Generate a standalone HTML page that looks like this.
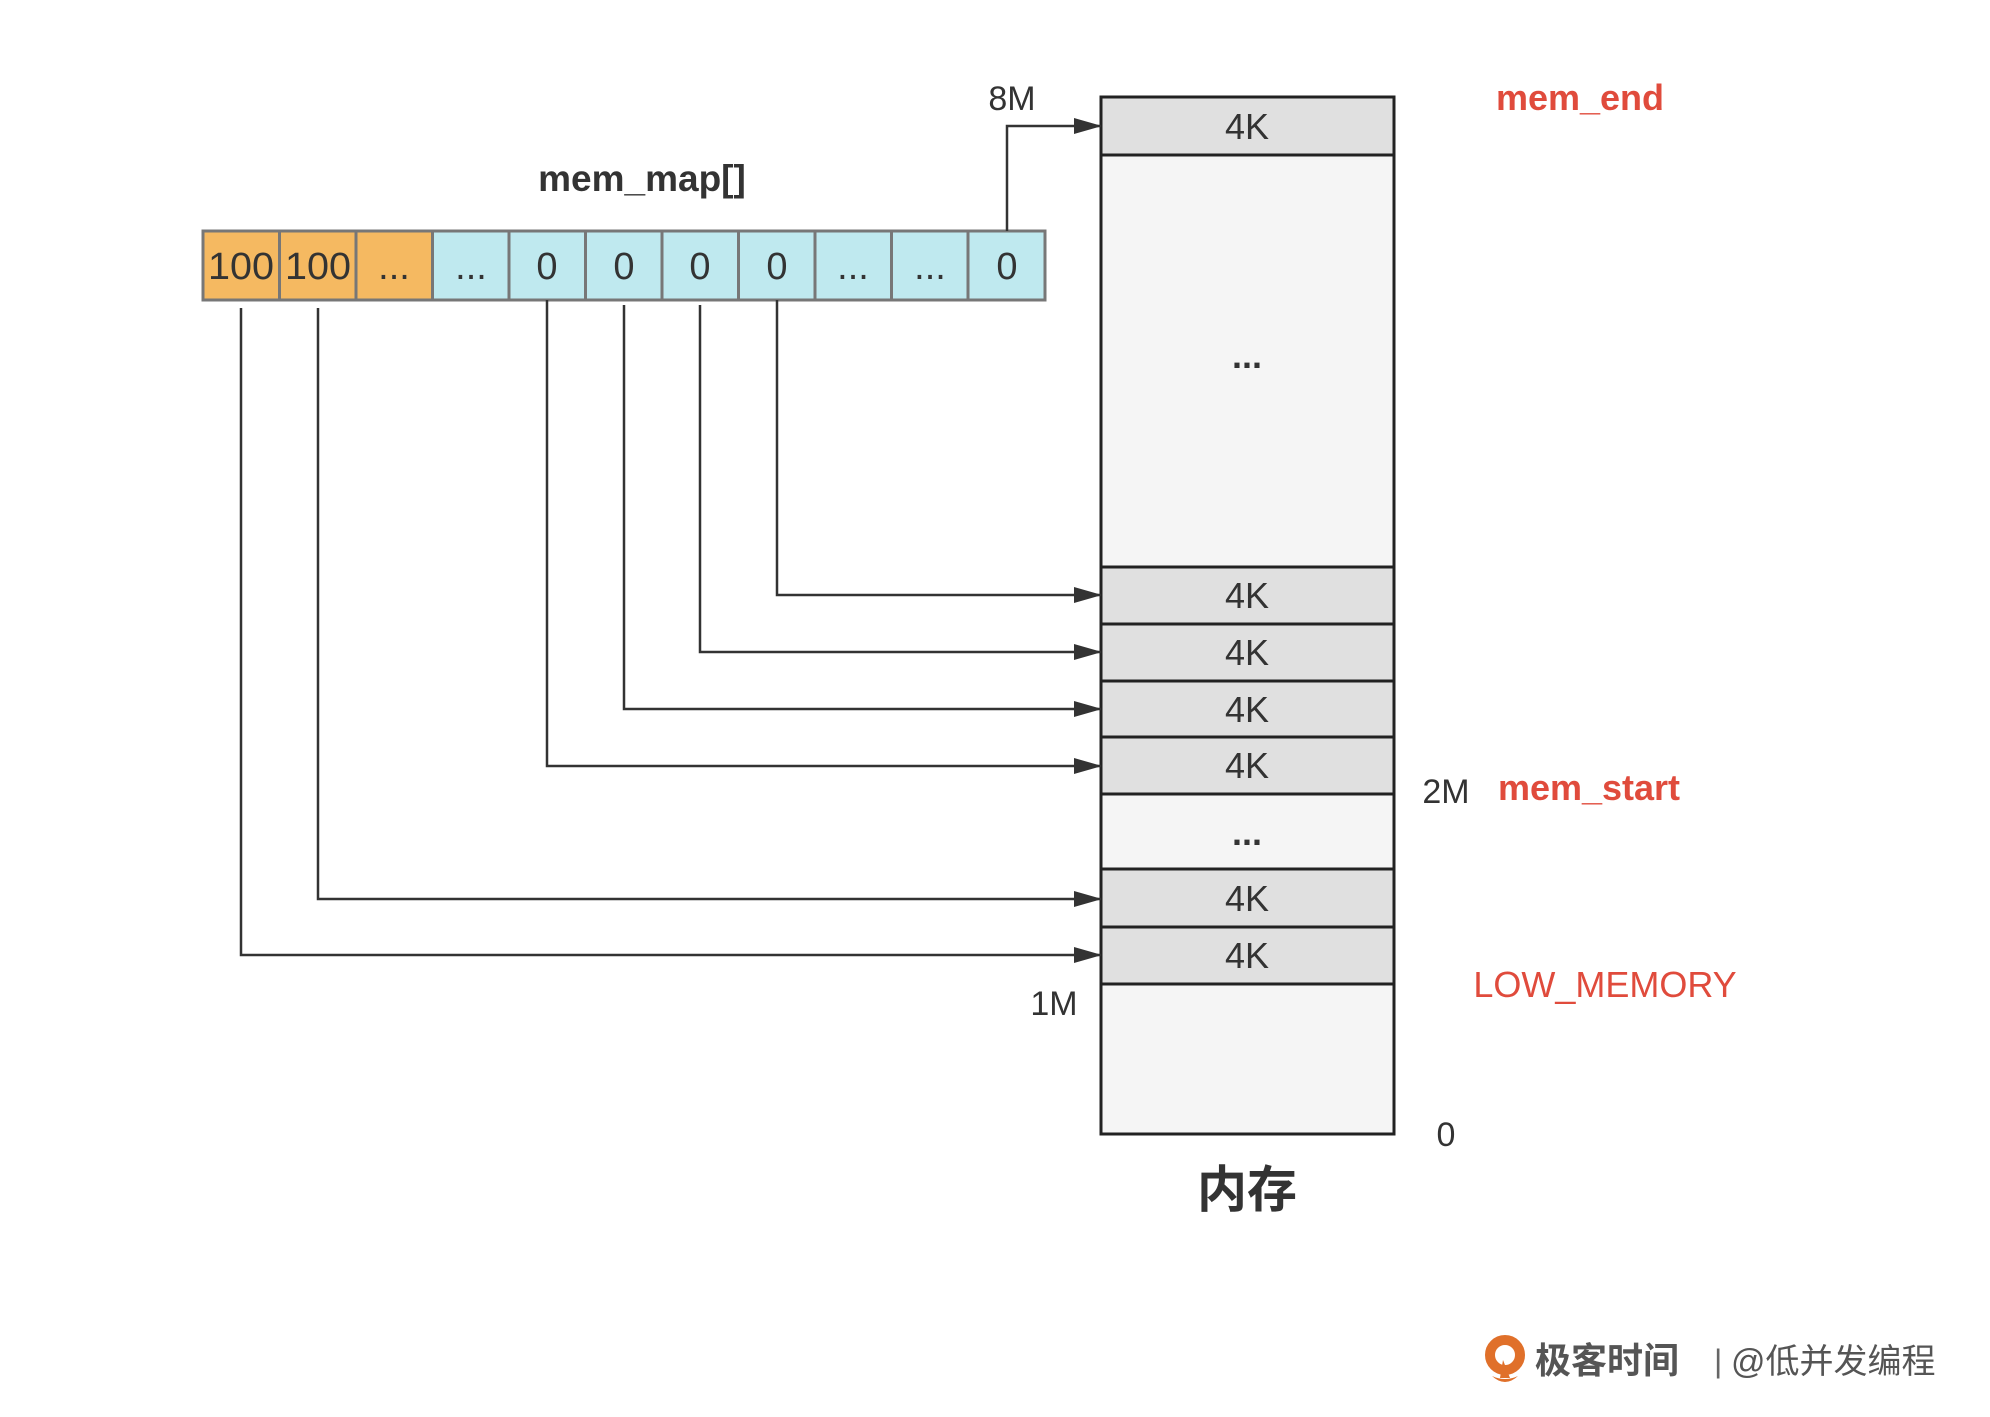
<!DOCTYPE html>
<html><head><meta charset="utf-8"><style>
html,body{margin:0;padding:0;background:#fff;}
svg{display:block;}
text{font-family:"Liberation Sans","Noto Sans CJK SC",sans-serif;}
</style></head><body>
<svg width="1990" height="1417" viewBox="0 0 1990 1417" xmlns="http://www.w3.org/2000/svg">
<defs>
<marker id="b" viewBox="0 0 28 20" refX="27" refY="10" markerWidth="28" markerHeight="20" orient="auto" markerUnits="userSpaceOnUse">
<path d="M0,2 L28,10 L0,18 z" fill="#333"/>
</marker>
</defs>

<g stroke="#222" stroke-width="3">
<rect x="1101" y="97" width="293" height="58" fill="#e0e0e0"/>
<rect x="1101" y="155" width="293" height="412" fill="#f5f5f5"/>
<rect x="1101" y="567" width="293" height="57" fill="#e0e0e0"/>
<rect x="1101" y="624" width="293" height="57" fill="#e0e0e0"/>
<rect x="1101" y="681" width="293" height="56" fill="#e0e0e0"/>
<rect x="1101" y="737" width="293" height="57" fill="#e0e0e0"/>
<rect x="1101" y="794" width="293" height="75" fill="#f5f5f5"/>
<rect x="1101" y="869" width="293" height="58" fill="#e0e0e0"/>
<rect x="1101" y="927" width="293" height="57" fill="#e0e0e0"/>
<rect x="1101" y="984" width="293" height="150" fill="#f5f5f5"/>
</g>
<g font-size="36" fill="#333" text-anchor="middle">
<text x="1247" y="139">4K</text>
<text x="1247" y="368" font-weight="bold">...</text>
<text x="1247" y="608">4K</text>
<text x="1247" y="665">4K</text>
<text x="1247" y="722">4K</text>
<text x="1247" y="778">4K</text>
<text x="1247" y="845" font-weight="bold">...</text>
<text x="1247" y="911">4K</text>
<text x="1247" y="968">4K</text>
</g>

<g stroke="#777" stroke-width="3">
<rect x="203" y="231" width="76.5" height="69" fill="#f5b961"/>
<rect x="279.5" y="231" width="76.5" height="69" fill="#f5b961"/>
<rect x="356" y="231" width="76.5" height="69" fill="#f5b961"/>
<rect x="432.5" y="231" width="76.5" height="69" fill="#bfe9ef"/>
<rect x="509" y="231" width="76.5" height="69" fill="#bfe9ef"/>
<rect x="585.5" y="231" width="76.5" height="69" fill="#bfe9ef"/>
<rect x="662" y="231" width="76.5" height="69" fill="#bfe9ef"/>
<rect x="738.5" y="231" width="76.5" height="69" fill="#bfe9ef"/>
<rect x="815" y="231" width="76.5" height="69" fill="#bfe9ef"/>
<rect x="891.5" y="231" width="76.5" height="69" fill="#bfe9ef"/>
<rect x="968" y="231" width="77" height="69" fill="#bfe9ef"/>
</g>
<g font-size="38" fill="#333" text-anchor="middle">
<text x="241" y="279" textLength="66" lengthAdjust="spacingAndGlyphs">100</text>
<text x="318" y="279" textLength="66" lengthAdjust="spacingAndGlyphs">100</text>
<text x="394" y="279">...</text>
<text x="471" y="279">...</text>
<text x="547" y="279">0</text>
<text x="624" y="279">0</text>
<text x="700" y="279">0</text>
<text x="777" y="279">0</text>
<text x="853" y="279">...</text>
<text x="930" y="279">...</text>
<text x="1007" y="279">0</text>
</g>

<g stroke="#333" stroke-width="2.5" fill="none" marker-end="url(#b)">
<polyline points="1007,231 1007,126 1101,126"/>
<polyline points="777,300 777,595 1101,595"/>
<polyline points="700,305 700,652 1101,652"/>
<polyline points="624,305 624,709 1101,709"/>
<polyline points="547,300 547,766 1101,766"/>
<polyline points="318,308 318,899 1101,899"/>
<polyline points="241,308 241,955 1101,955"/>
</g>

<g font-size="34" fill="#333">
<text x="1012" y="110" text-anchor="middle">8M</text>
<text x="642" y="191" text-anchor="middle" font-size="37" font-weight="bold">mem_map[]</text>
<text x="1446" y="803" text-anchor="middle">2M</text>
<text x="1054" y="1015" text-anchor="middle">1M</text>
<text x="1446" y="1146" text-anchor="middle">0</text>
</g>
<g font-size="36" fill="#e04b3c" font-weight="bold">
<text x="1580" y="110" text-anchor="middle">mem_end</text>
<text x="1589" y="800" text-anchor="middle">mem_start</text>
<text x="1605" y="997" text-anchor="middle" font-weight="normal">LOW_MEMORY</text>
</g>
<text x="1247" y="1207" text-anchor="middle" font-size="50" font-weight="bold" fill="#333" font-family="'Noto Sans CJK SC',sans-serif">内存</text>

<g>
<circle cx="1505" cy="1355" r="15" fill="none" stroke="#e0702a" stroke-width="10"/>
<path d="M1503,1360 L1510,1378 L1500,1378 z" fill="#e0702a"/>
<path d="M1492,1376 Q1505,1388 1518,1376 Q1505,1382 1492,1376 z" fill="#e0702a"/>
<text x="1535" y="1373" font-size="36" font-weight="bold" fill="#555" font-family="'Noto Sans CJK SC',sans-serif">极客时间</text>
<text x="1714" y="1372" font-size="32" fill="#666">|</text>
<text x="1731" y="1373" font-size="34" fill="#555" font-family="'Liberation Sans','Noto Sans CJK SC',sans-serif">@低并发编程</text>
</g>
</svg>
</body></html>
